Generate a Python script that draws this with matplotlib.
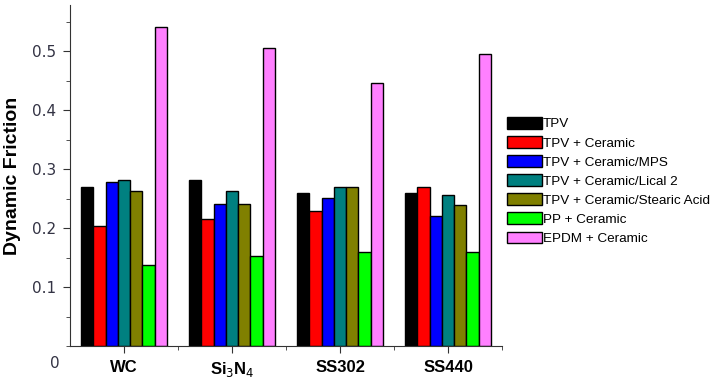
import matplotlib.pyplot as plt
import numpy as np
from matplotlib.patches import Patch
from matplotlib.ticker import MultipleLocator

groups = ['WC', 'Si$_3$N$_4$', 'SS302', 'SS440']
series = ['TPV', 'TPV + Ceramic', 'TPV + Ceramic/MPS', 'TPV + Ceramic/Lical 2',
          'TPV + Ceramic/Stearic Acid', 'PP + Ceramic', 'EPDM + Ceramic']
colors = ['#000000', '#ff0000', '#0000ff', '#008080', '#808000', '#00ff00', '#ff80ff']

tpv = [0.270, 0.281, 0.260, 0.260]
tpv_ceramic = [0.204, 0.215, 0.229, 0.270]
tpv_mps = [0.278, 0.240, 0.251, 0.221]
tpv_lical = [0.281, 0.262, 0.270, 0.256]
tpv_stearic = [0.262, 0.240, 0.270, 0.239]
pp_ceramic = [0.138, 0.153, 0.160, 0.160]
epdm_ceramic = [0.540, 0.505, 0.446, 0.495]
values = [tpv, tpv_ceramic, tpv_mps, tpv_lical, tpv_stearic, pp_ceramic, epdm_ceramic]

fig = plt.figure(figsize=(7.12, 3.8), dpi=100)
ax = fig.add_axes([70/712, 34/380, 432/712, 341/380])

x = np.arange(len(groups))
w = 0.114
for i, vals in enumerate(values):
    ax.bar(x + (i - 3) * w, vals, width=w, color=colors[i], edgecolor='black', linewidth=1)

ax.set_xlim(-0.5, 3.5)
ax.set_ylim(0, 0.578)
ax.spines['top'].set_visible(False)
ax.spines['right'].set_visible(False)
ax.spines['left'].set_color('#333333')
ax.spines['bottom'].set_color('#333333')

ax.set_xticks(x)
ax.set_xticklabels(groups, fontsize=12, fontweight='bold', family='Liberation Sans')
ax.set_xticks([0.5, 1.5, 2.5, 3.5], minor=True)
ax.yaxis.set_minor_locator(MultipleLocator(0.05))
ax.set_yticks([0.1, 0.2, 0.3, 0.4, 0.5])
ax.set_yticklabels(['0.1', '0.2', '0.3', '0.4', '0.5'], fontsize=11, color='#333344')
ax.tick_params(axis='both', which='major', length=5, color='#333333')
ax.tick_params(axis='both', which='minor', length=3, color='#333333')
ax.tick_params(axis='y', pad=5)
ax.tick_params(axis='x', pad=5)
ax.set_ylabel('Dynamic Friction', fontsize=14, fontweight='bold', family='Liberation Sans', labelpad=8)
fig.text(55/712, 1 - 364/380, '0', fontsize=11, color='#333344', ha='center', va='center')

handles = [Patch(facecolor=c, edgecolor='black') for c in colors]
fig.legend(handles, series, loc='upper left', bbox_to_anchor=(507/712, 1 - 117/380),
           frameon=False, borderpad=0, borderaxespad=0,
           prop={'family': 'Liberation Sans', 'size': 9.7},
           handlelength=2.6, handleheight=0.95, handletextpad=0.05, labelspacing=0.42)

fig.savefig('out.png', dpi=100)
